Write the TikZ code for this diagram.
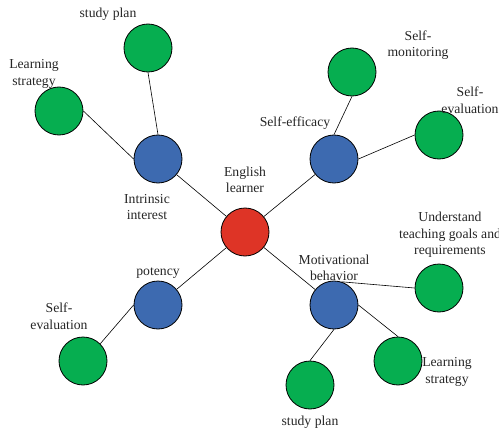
\documentclass[tikz,border=0pt]{standalone}
\usepackage{fontspec}
\setmainfont{Liberation Serif}
\definecolor{leafgreen}{RGB}{6,174,80}
\definecolor{hubblue}{RGB}{61,106,176}
\definecolor{corered}{RGB}{222,52,38}
\tikzset{
	ball/.style={circle,draw=black,line width=0.8pt,minimum size=48pt,inner sep=0pt},
	leaf/.style={ball,fill=leafgreen},
	hub/.style={ball,fill=hubblue},
	core/.style={ball,fill=corered},
	txt/.style={font=\fontsize{13.7}{16.5}\selectfont,align=center,inner sep=0pt,text=black!85},
	link/.style={draw=black,line width=0.6pt}
}
\begin{document}
\begin{tikzpicture}[x=1pt,y=-1pt]
\useasboundingbox (0,0) rectangle (499,431);

% centre and hubs
\node[core] (learner) at (245,232) {};
\node[hub] (interest) at (158,159) {};
\node[hub] (efficacy) at (334,159) {};
\node[hub] (potency) at (158,305) {};
\node[hub] (behavior) at (334,305) {};

% leaves
\node[leaf] (planA) at (148,48) {};
\node[leaf] (strategyA) at (59,111) {};
\node[leaf] (monitor) at (352,72) {};
\node[leaf] (evalA) at (439,135) {};
\node[leaf] (evalB) at (83,361) {};
\node[leaf] (goals) at (439,288) {};
\node[leaf] (strategyB) at (398,361) {};
\node[leaf] (planB) at (310,385) {};

% connectors
\draw[link] (interest) -- (learner);
\draw[link] (efficacy) -- (learner);
\draw[link] (potency) -- (learner);
\draw[link] (behavior) -- (learner);

\draw[link] (interest.north) -- (planA.south);
\draw[link] (interest.west) -- (strategyA.east);
\draw[link] (efficacy.north) -- (monitor.south);
\draw[link] (efficacy.east) -- (evalA.west);
\draw[link] (potency.west) -- (evalB.north east);
\draw[link] (behavior.72) -- (goals.west);
\draw[link] (behavior.east) -- (strategyB.north);
\draw[link] (behavior.south) -- (planB.north);

% labels
\node[txt] (tLearner) at (245,180) {English\\learner};
\node[txt] (tInterest) at (147,207) {Intrinsic\\interest};
\node[txt] (tEfficacy) at (295,123) {Self-efficacy};
\node[txt] (tPotency) at (158,273) {potency};
\node[txt] (tBehavior) at (334,268) {Motivational\\behavior};
\node[txt] (tPlanA) at (108,14) {study plan};
\node[txt] (tStrategyA) at (34,74) {Learning\\strategy};
\node[txt] (tMonitor) at (418,45) {Self-\\monitoring};
\node[txt] (tEvalA) at (470,100) {Self-\\evaluation};
\node[txt] (tEvalB) at (59,316) {Self-\\evaluation};
\node[txt] (tGoals) at (450,235) {Understand\\teaching goals and\\requirements};
\node[txt] (tStrategyB) at (447,372) {Learning\\strategy};
\node[txt] (tPlanB) at (310,422) {study plan};

\end{tikzpicture}
\end{document}
